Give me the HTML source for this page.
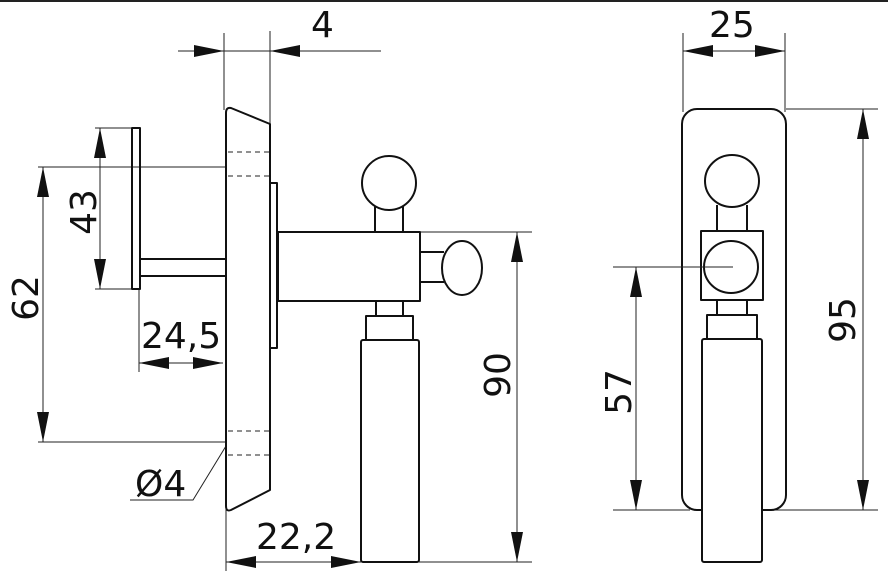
<!DOCTYPE html>
<html><head><meta charset="utf-8"><style>
html,body{margin:0;padding:0;background:#fff;}
svg{display:block;}
text{font-family:"DejaVu Sans","Liberation Sans",sans-serif;fill:#111;}
</style></head><body>
<svg width="888" height="581" viewBox="0 0 888 581" xmlns="http://www.w3.org/2000/svg">
<rect x="0" y="0" width="888" height="581" fill="#fff"/>
<rect x="0" y="0" width="888" height="2" fill="#222"/>

<g stroke="#222" stroke-width="1" fill="none">
  <line x1="178" y1="51" x2="381" y2="51"/>
  <line x1="224" y1="33" x2="224" y2="110"/>
  <line x1="270" y1="31" x2="270" y2="124"/>
  <line x1="100" y1="128" x2="100" y2="289"/>
  <line x1="95" y1="128" x2="133" y2="128"/>
  <line x1="95" y1="289" x2="133" y2="289"/>
  <line x1="43" y1="167" x2="43" y2="442"/>
  <line x1="38" y1="167" x2="226" y2="167"/>
  <line x1="38" y1="442" x2="226" y2="442"/>
  <line x1="139" y1="363" x2="223" y2="363"/>
  <line x1="139" y1="289" x2="139" y2="372"/>
  <polyline points="226,446 193,500 130,500"/>
  <line x1="226" y1="562" x2="361" y2="562"/>
  <line x1="226" y1="505" x2="226" y2="571"/>
  <line x1="517" y1="232" x2="517" y2="562"/>
  <line x1="419" y1="232" x2="532" y2="232"/>
  <line x1="419" y1="562" x2="532" y2="562"/>
  <line x1="683" y1="51" x2="785" y2="51"/>
  <line x1="683" y1="33" x2="683" y2="112"/>
  <line x1="785" y1="33" x2="785" y2="112"/>
  <line x1="636" y1="267" x2="636" y2="510"/>
  <line x1="613" y1="510" x2="690" y2="510"/>
  <line x1="863" y1="109" x2="863" y2="510"/>
  <line x1="786" y1="109" x2="878" y2="109"/>
  <line x1="762" y1="510" x2="878" y2="510"/>
  <g stroke-dasharray="5,4">
    <line x1="228" y1="152" x2="269" y2="152"/>
    <line x1="228" y1="176" x2="269" y2="176"/>
    <line x1="228" y1="431" x2="269" y2="431"/>
    <line x1="228" y1="455" x2="269" y2="455"/>
  </g>
</g>

<g fill="#111">
  <polygon points="224,51 194,45 194,57"/>
  <polygon points="270,51 300,45 300,57"/>
  <polygon points="100,128 94,158 106,158"/>
  <polygon points="100,289 94,259 106,259"/>
  <polygon points="43,167 37,197 49,197"/>
  <polygon points="43,442 37,412 49,412"/>
  <polygon points="139,363 169,357 169,369"/>
  <polygon points="223,363 193,357 193,369"/>
  <polygon points="226,562 256,556 256,568"/>
  <polygon points="361,562 331,556 331,568"/>
  <polygon points="517,232 511,262 523,262"/>
  <polygon points="517,562 511,532 523,532"/>
  <polygon points="683,51 713,45 713,57"/>
  <polygon points="785,51 755,45 755,57"/>
  <polygon points="636,267 630,297 642,297"/>
  <polygon points="636,510 630,480 642,480"/>
  <polygon points="863,109 857,139 869,139"/>
  <polygon points="863,510 857,480 869,480"/>
</g>

<g stroke="#111" stroke-width="2" fill="none" stroke-linejoin="round">
  <rect x="132" y="128" width="8" height="161"/>
  <rect x="140" y="259" width="86" height="17"/>
  <path d="M226,113 Q226,107 231,108 L270,124 L270,490 L231,510 Q226,512 226,506 Z"/>
  <path d="M271,183 L277,183 L277,348 L271,348"/>
  <rect x="278" y="232" width="142" height="69"/>
  <line x1="375" y1="205" x2="375" y2="232"/>
  <line x1="403" y1="205" x2="403" y2="232"/>
  <circle cx="389" cy="183" r="27" fill="#fff"/>
  <line x1="420" y1="252" x2="444" y2="252"/>
  <line x1="420" y1="282" x2="444" y2="282"/>
  <ellipse cx="462" cy="268" rx="20" ry="27" fill="#fff"/>
  <rect x="376" y="301" width="27" height="15"/>
  <rect x="366" y="316" width="47" height="24"/>
  <rect x="361" y="340" width="58" height="222" rx="2"/>

  <rect x="682" y="109" width="104" height="401" rx="15"/>
  <line x1="717" y1="205" x2="717" y2="231"/>
  <line x1="747" y1="205" x2="747" y2="231"/>
  <ellipse cx="732" cy="181" rx="27" ry="26" fill="#fff"/>
  <rect x="701" y="231" width="62" height="69" fill="#fff"/>
  <ellipse cx="731" cy="267" rx="27" ry="26"/>
  <rect x="717" y="300" width="30" height="15"/>
  <rect x="707" y="315" width="50" height="24"/>
  <rect x="702" y="339" width="60" height="223" rx="2" fill="#fff"/>
</g>
<line x1="613" y1="267" x2="733" y2="267" stroke="#222" stroke-width="1"/>

<g font-size="36">
  <text x="311" y="37">4</text>
  <text x="709" y="37">25</text>
  <text x="141" y="348">24,5</text>
  <text x="256" y="549">22,2</text>
  <text x="135" y="496">Ø4</text>
  <text transform="translate(96,212) rotate(-90)" text-anchor="middle">43</text>
  <text transform="translate(38,298) rotate(-90)" text-anchor="middle">62</text>
  <text transform="translate(510,375) rotate(-90)" text-anchor="middle">90</text>
  <text transform="translate(631,392) rotate(-90)" text-anchor="middle">57</text>
  <text transform="translate(855,320) rotate(-90)" text-anchor="middle">95</text>
</g>
</svg>
</body></html>
